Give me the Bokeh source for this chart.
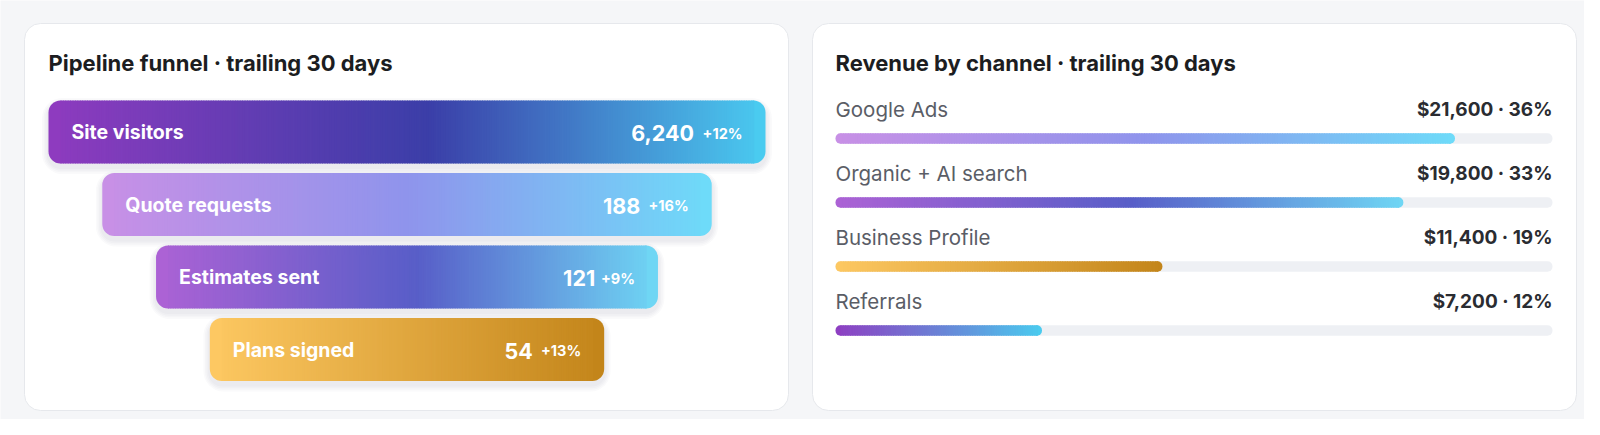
"""Two dashboard cards: pipeline funnel and revenue by channel (trailing 30 days)."""

import numpy as np
from bokeh.core.properties import value
from bokeh.embed import file_html
from bokeh.models import Range1d
from bokeh.plotting import figure
from bokeh.resources import INLINE

# --- data -----------------------------------------------------------------
stages = ["Site visitors", "Quote requests", "Estimates sent", "Plans signed"]
stage_counts = [6240, 188, 121, 54]
stage_change = [12, 16, 9, 13]  # percent vs previous period

channels = ["Google Ads", "Organic + AI search", "Business Profile", "Referrals"]
channel_revenue = [21600, 19800, 11400, 7200]
channel_share = [36, 33, 19, 12]  # percent of total
revenue_max = 25000  # full length of a track

# --- style ----------------------------------------------------------------
FONT = value("Inter")
PAGE_BG = "#f5f6f8"
TRACK = "#eef0f4"
PURPLE_DEEP = [(0.0, "#8e3bbf"), (0.53, "#3b3ea8"), (1.0, "#4acbf0")]
PURPLE_SOFT = [(0.0, "#c890e6"), (0.5, "#8f94ec"), (1.0, "#6edbf9")]
PURPLE_MID = [(0.0, "#ac62d5"), (0.52, "#585ec8"), (1.0, "#6fd6f4")]
GOLD = [(0.0, "#fdc862"), (1.0, "#c3851a")]
REFERRAL = [(0.0, "#8e3fc2"), (0.5, "#6a82d6"), (1.0, "#4acbef")]
funnel_gradients = [PURPLE_DEEP, PURPLE_SOFT, PURPLE_MID, GOLD]
channel_gradients = [PURPLE_SOFT, PURPLE_MID, GOLD, REFERRAL]

FW, FH = 1584, 419  # figure size; layout below is in page pixels from the top-left


def Y(page_y):
    # layout is measured from the top of the page, bokeh's y grows upward
    return FH - page_y


def _rgb(h):
    return np.array([int(h[i:i + 2], 16) for i in (1, 3, 5)], dtype=float)


def blend(stops, t):
    for (t0, c0), (t1, c1) in zip(stops, stops[1:]):
        if t <= t1 or t1 == stops[-1][0]:
            f = 0.0 if t1 == t0 else min(max((t - t0) / (t1 - t0), 0.0), 1.0)
            c = _rgb(c0) * (1 - f) + _rgb(c1) * f
            return "#%02x%02x%02x" % tuple(int(round(v)) for v in c)
    return stops[-1][1]


def gradient_bar(p, x0, x1, top, bottom, stops, radius, px, **kw):
    """Horizontal gradient built from thin slices; px = data units per pixel."""
    cap = radius * px
    n = max(int((x1 - x0) / px / 2.5), 4)
    edges = np.linspace(x0 + cap, x1 - cap, n + 1)
    mids = (edges[:-1] + edges[1:]) / 2
    colors = [blend(stops, (m - x0) / (x1 - x0)) for m in mids]
    common = dict(top=top, bottom=bottom, line_color=None, **kw)
    p.quad(left=x0, right=x0 + cap + px, fill_color=stops[0][1],
           border_radius=(radius, 0, 0, radius), **common)
    p.quad(left=x1 - cap - px, right=x1, fill_color=stops[-1][1],
           border_radius=(0, radius, radius, 0), **common)
    p.quad(left=edges[:-1], right=edges[1:] + 0.8 * px, fill_color=colors, **common)


p = figure(
    width=FW, height=FH,
    x_range=Range1d(0, FW), y_range=Range1d(0, FH),
    x_axis_location=None, y_axis_location=None,
    toolbar_location=None, output_backend="svg",
    background_fill_color=PAGE_BG, border_fill_color=PAGE_BG,
    outline_line_color=None, min_border=0,
)
p.grid.visible = False

# cards
for left, right in [(24, 788), (812, 1576)]:
    p.quad(left=left, right=right, top=Y(23), bottom=Y(410), fill_color="white",
           line_color="#e6e8ec", line_width=1, border_radius=16)

title_kw = dict(text_font=FONT, text_font_size="22px", text_font_style="bold",
                text_color="#1c1d21", text_baseline="middle")
p.text(x=[48], y=[Y(62)], text=["Pipeline funnel · trailing 30 days"], **title_kw)
p.text(x=[835], y=[Y(62)], text=["Revenue by channel · trailing 30 days"], **title_kw)

# --- funnel ---------------------------------------------------------------
f_left, f_right = 48, 765
f_center = (f_left + f_right) / 2
full = f_right - f_left
bar_h, pitch, first_top = 63, 72.5, 100

idx = np.arange(len(stages))
half = full * (1 - 0.15 * idx) / 2
lefts = f_center - half
rights = f_center + half
tops = Y(first_top + pitch * idx)
bottoms = tops - bar_h
centers = tops - bar_h / 2

for k in range(1, 5):
    e = 1.6 * k
    p.quad(left=lefts - e, right=rights + e, top=tops - 4 + e, bottom=bottoms - 4 - e,
           fill_color="#1d2340", fill_alpha=0.025, line_color=None, border_radius=12 + k * 2)

for i in idx:
    gradient_bar(p, lefts[i], rights[i], tops[i], bottoms[i], funnel_gradients[i], 12, 1.0)

p.text(x=lefts + 23, y=centers, text=stages, text_font=FONT, text_font_size="19.5px",
       text_font_style="bold", text_color="white", text_baseline="middle")

change_labels = ["+%d%%" % c for c in stage_change]
count_labels = ["{:,}".format(c) for c in stage_counts]


def approx_width(s, size):
    adv = {"%": 0.95, "+": 0.64, ",": 0.27}
    return sum(adv.get(ch, 0.6) for ch in s) * size


p.text(x=rights - 23, y=centers - 1, text=change_labels, text_font=FONT,
       text_font_size="14.5px", text_font_style="bold", text_color="white",
       text_align="right", text_baseline="middle")
p.text(x=[r - 23 - approx_width(c, 14.5) - 8 for r, c in zip(rights, change_labels)],
       y=centers - 1, text=count_labels, text_font=FONT, text_font_size="21.5px",
       text_font_style="bold", text_color="white", text_align="right",
       text_baseline="middle")

# --- revenue by channel ---------------------------------------------------
t_left, t_right = 835, 1552
upp = revenue_max / (t_right - t_left)  # revenue units per pixel
start = -t_left * upp
p.extra_x_ranges["rev"] = Range1d(start, start + FW * upp)

row_pitch = 64
label_y = np.array([Y(109 + row_pitch * i) for i in idx])
track_y = np.array([Y(138 + row_pitch * i) for i in idx])

p.text(x=[t_left] * len(channels), y=label_y, text=channels, text_font=FONT,
       text_font_size="20.5px", text_color="#5a5d66", text_baseline="middle")
p.text(x=[t_right] * len(channels), y=label_y,
       text=["${:,} · {}%".format(r, s) for r, s in zip(channel_revenue, channel_share)],
       text_font=FONT, text_font_size="19px", text_font_style="bold",
       text_color="#2a2c31", text_align="right", text_baseline="middle")

p.quad(left=0, right=revenue_max, top=track_y + 5.25, bottom=track_y - 5.25,
       fill_color=TRACK, line_color=None, border_radius=5, x_range_name="rev")
for i in idx:
    gradient_bar(p, 0, channel_revenue[i], track_y[i] + 5.25, track_y[i] - 5.25,
                 channel_gradients[i], 5, upp, x_range_name="rev")

open("out.html", "w").write(file_html(p, INLINE))
